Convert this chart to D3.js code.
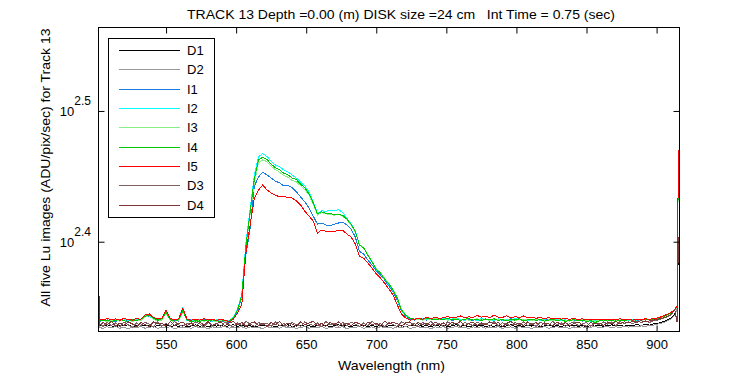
<!DOCTYPE html>
<html>
<head>
<meta charset="utf-8">
<script src="https://cdn.jsdelivr.net/npm/d3@7"></script>
<style>
  body { margin: 0; background: #fff; }
  svg { display: block; font-family: "Liberation Sans", Arial, Helvetica, sans-serif; }
  .axis text { font-size: 13px; fill: #000; }
  .axis line { stroke: #000; }
  .trace { fill: none; stroke-width: 1; shape-rendering: crispEdges; }
</style>
</head>
<body>
<svg id="chart" width="750" height="375"></svg>
<script>
"use strict";

// wavelength grid (nm)
let wavelength = [501.8, 502.6,
  505,508,511,514,517,520,523,526,529,532,
  535,538,541,544,547,550,553,556,559,562,
  565,568,571,574,577,580,583,586,589,592,
  595,598,601,604,607,610,613,616,619,622,
  625,628,631,634,637,640,643,646,649,652,
  655,658,661,664,667,670,673,676,679,682,
  685,688,691,694,697,700,703,706,709,712,
  715,718,721,724,727,730,733,736,739,742,
  745,748,751,754,757,760,763,766,769,772,
  775,778,781,784,787,790,793,796,799,802,
  805,808,811,814,817,820,823,826,829,832,
  835,838,841,844,847,850,853,856,859,862,
  865,868,871,874,877,880,883,886,889,892,
  895,898,901,904,907,910,913,
  914.6, 915.6];

// Lu (ADU/pix/sec)
let d1 = [222.0,
  216.8, 216.4, 217.0, 216.6, 216.2, 216.9, 216.5, 217.1, 216.3, 216.7,
  216.4, 216.9, 216.6, 216.1, 216.8, 216.5, 217.0, 216.3, 216.7, 216.4,
  216.9, 216.2, 216.6, 217.0, 216.4, 216.8, 216.3, 216.7, 216.5, 216.9,
  216.2, 216.6, 217.0, 216.4, 216.8, 216.3, 216.7, 216.1, 216.6, 216.9,
  216.4, 216.8, 216.2, 216.7, 216.5, 217.0, 216.3, 216.6, 216.9, 216.4,
  216.7, 216.2, 216.8, 216.5, 216.9, 216.3, 216.6, 217.0, 216.4, 216.7,
  216.2, 216.8, 216.5, 216.9, 216.3, 216.7, 216.4, 216.8, 216.1, 216.6,
  216.9, 216.4, 216.7, 216.3, 216.8, 216.5, 217.0, 216.4, 216.7, 216.2,
  216.8, 216.5, 216.9, 216.3, 216.6, 217.0, 216.4, 216.8, 216.2, 216.7,
  216.5, 216.9, 216.3, 216.7, 216.4, 216.8, 216.2, 216.6, 217.0, 216.4,
  216.7, 216.3, 216.9, 216.5, 216.8, 216.2, 216.6, 216.9, 216.4, 216.7,
  216.3, 216.8, 216.5, 216.9, 216.4, 216.7, 216.2, 216.8, 216.5, 216.9,
  216.4, 216.7, 217.0, 216.5, 216.8, 216.4, 216.9, 216.6, 217.1, 216.7,
  217.2, 216.9, 217.4, 217.6, 218.1, 218.7, 219.5, 221.2, 222.5, 250.0];

let d2 = [224.0,
  216.0, 215.6, 216.3, 215.8, 216.4, 215.7, 216.1, 215.5, 216.2, 215.9,
  216.3, 215.7, 216.0, 216.4, 215.6, 216.1, 215.8, 216.3, 215.5, 216.0,
  215.8, 216.2, 215.6, 216.4, 215.9, 216.1, 215.5, 216.3, 215.8, 216.0,
  216.4, 215.7, 216.1, 215.9, 216.3, 215.6, 216.2, 215.8, 216.0, 215.5,
  216.3, 215.9, 216.1, 215.7, 216.4, 215.8, 216.2, 215.6, 216.0, 216.3,
  215.7, 216.1, 215.9, 216.4, 215.6, 216.0, 216.2, 215.8, 216.3, 215.5,
  216.1, 215.9, 216.4, 215.7, 216.0, 216.2, 215.6, 216.3, 215.8, 216.1,
  215.7, 216.2, 215.9, 216.4, 215.6, 216.0, 216.3, 215.8, 216.1, 215.5,
  216.2, 215.9, 216.3, 215.7, 216.0, 216.4, 215.8, 216.1, 215.6, 216.2,
  215.9, 216.3, 215.7, 216.1, 215.8, 216.4, 215.6, 216.0, 216.2, 215.7,
  216.3, 215.9, 216.1, 215.6, 216.2, 215.8, 216.4, 215.7, 216.0, 216.3,
  215.8, 216.1, 215.6, 216.2, 215.9, 216.3, 215.7, 216.0, 216.4, 215.8,
  216.1, 216.3, 215.9, 216.2, 216.0, 216.4, 216.1, 216.5, 216.2, 216.6,
  216.4, 216.8, 216.9, 217.3, 217.7, 218.3, 219.1, 220.7, 223.0, 251.0];

let i1 = [235.5, 218.3, 218.6, 218.8, 218.4, 218.2, 218.9, 218.6, 218.7, 218.3, 218.9, 218.5,
  220.9, 220.2, 219.4, 218.6, 218.8, 222.0, 218.5, 218.7, 218.4, 222.8, 218.6, 218.9, 218.5,
  218.3, 218.9, 218.5, 218.4, 218.8, 218.5, 218.2,
  217.8, 219.4, 222.3, 227.5, 245.4, 257.2, 277.1, 281.5, 284.0, 282.5, 281.0, 279.5, 278.6,
  277.1, 277.3, 276.2, 274.2, 271.8, 269.5, 266.6, 262.8, 259.1, 259.6, 258.7, 258.2, 259.1,
  259.6, 260.0, 258.7, 256.9, 253.3, 247.0, 245.8, 243.2, 241.1, 238.6, 236.9, 234.8, 232.3,
  229.9, 226.7, 222.3, 220.3, 219.2, 218.8,
  219.0, 219.3, 218.8, 219.1, 219.4, 218.9, 219.1, 219.3, 218.7, 219.0,
  219.2, 218.8, 219.1, 218.7, 219.2, 218.9, 219.3, 218.7, 219.0, 219.2,
  218.7, 219.0, 219.3, 218.8, 219.1, 218.5, 219.0, 218.8, 219.2, 218.6,
  218.9, 219.1, 218.6, 218.8, 219.0, 218.5, 218.9, 218.6, 218.8, 218.4,
  218.7, 218.9, 218.5, 218.8, 218.4, 218.7, 218.9, 218.5, 218.7, 218.8,
  218.6, 218.9, 218.7, 219.0, 218.8, 219.0, 219.2, 219.6, 220.0, 220.7, 221.4, 222.6, 224.0, 292.5];

let i2 = [236.6, 218.7, 218.9, 218.3, 219.0, 218.5, 218.8, 219.3, 218.6, 218.4, 219.1, 218.8,
  220.6, 220.4, 219.2, 219.0, 218.6, 222.0, 218.7, 218.9, 219.2, 223.8, 218.5, 218.9, 218.4,
  219.0, 218.6, 218.8, 218.3, 218.9, 219.2, 218.6,
  218.6, 219.8, 223.2, 229.0, 250.6, 266.0, 282.5, 291.8, 293.3, 291.9, 289.5, 287.5, 286.6,
  285.0, 284.0, 282.5, 281.0, 279.0, 277.1, 274.2, 269.6, 264.0, 265.2, 265.0, 265.6, 265.3,
  265.8, 264.5, 261.8, 259.2, 256.0, 249.6, 248.6, 245.5, 242.2, 239.1, 237.6, 235.0, 233.0,
  230.4, 227.3, 222.4, 220.6, 219.4, 219.0,
  219.1, 219.5, 218.9, 219.3, 219.6, 219.0, 219.4, 218.8, 219.2, 219.5,
  219.0, 218.7, 219.3, 219.1, 218.6, 219.4, 218.9, 219.2, 218.6, 219.3,
  218.8, 219.1, 218.7, 219.4, 218.9, 219.2, 218.6, 218.9, 219.3, 218.7,
  219.0, 218.5, 218.9, 219.2, 218.7, 218.9, 218.4, 218.8, 219.1, 218.6,
  218.9, 218.3, 218.7, 218.9, 218.5, 218.8, 218.4, 218.9, 218.6, 219.0,
  218.7, 219.1, 218.8, 219.2, 218.9, 219.1, 219.3, 219.7, 220.1, 220.8, 221.6, 222.8, 224.3, 294.0];

let i3 = [234.0, 218.5, 218.7, 218.2, 218.6, 219.0, 218.4, 218.8, 218.9, 218.3, 218.7, 218.5,
  220.0, 220.6, 219.0, 218.5, 218.9, 221.6, 218.6, 218.3, 218.7, 222.0, 218.9, 218.5, 218.2,
  218.8, 218.4, 218.6, 218.7, 218.2, 218.6, 218.4,
  218.3, 219.5, 222.5, 228.0, 248.8, 263.8, 279.0, 288.6, 290.2, 289.2, 287.0, 285.2, 283.9,
  282.3, 281.4, 279.8, 279.1, 277.2, 275.4, 272.6, 268.5, 263.2, 264.4, 263.8, 263.5, 263.2,
  263.6, 262.8, 261.0, 258.8, 255.6, 249.9, 248.6, 245.6, 242.6, 239.6, 237.9, 235.4, 233.4,
  230.9, 227.8, 223.0, 220.9, 219.6, 219.1,
  219.2, 218.8, 219.3, 219.0, 219.4, 218.9, 219.2, 218.7, 219.1, 219.3,
  218.8, 219.2, 218.7, 219.0, 219.3, 218.8, 219.1, 218.6, 219.0, 218.9,
  219.2, 218.7, 219.0, 218.6, 219.1, 218.8, 219.2, 218.6, 218.9, 219.1,
  218.6, 218.9, 218.5, 218.8, 219.0, 218.6, 218.9, 218.4, 218.7, 219.0,
  218.5, 218.8, 218.4, 218.7, 218.9, 218.5, 218.8, 218.4, 218.9, 218.6,
  218.9, 218.6, 219.0, 218.7, 219.1, 218.8, 219.0, 219.4, 219.9, 220.6, 221.4, 222.5, 223.9, 292.0];

let i4 = [234.5, 219.0, 218.4, 218.9, 218.2, 218.7, 219.1, 218.5, 218.3, 218.9, 218.6, 219.2,
  220.3, 220.8, 219.6, 218.7, 219.3, 221.8, 219.0, 218.4, 218.9, 222.4, 218.8, 218.2, 218.6,
  218.3, 218.7, 218.4, 218.9, 218.5, 218.3, 218.7,
  218.4, 219.6, 222.7, 228.3, 249.5, 264.7, 280.6, 290.1, 291.5, 290.3, 288.0, 286.2, 285.1,
  283.4, 282.6, 281.0, 280.2, 278.0, 276.3, 273.2, 269.0, 263.8, 264.8, 264.1, 263.9, 263.6,
  263.4, 263.2, 261.4, 259.0, 255.9, 249.7, 248.4, 245.3, 242.4, 239.3, 237.7, 235.1, 233.2,
  230.6, 227.5, 222.7, 220.7, 219.5, 219.2,
  219.4, 219.0, 219.6, 219.2, 218.8, 219.3, 219.0, 219.5, 218.9, 219.2,
  218.7, 219.1, 219.4, 218.8, 219.0, 218.6, 219.2, 218.9, 219.3, 218.7,
  219.0, 218.5, 219.1, 218.8, 219.3, 218.6, 218.9, 219.2, 218.7, 219.0,
  218.4, 218.8, 219.1, 218.6, 218.9, 218.3, 218.7, 219.0, 218.5, 218.8,
  218.2, 218.6, 217.8, 218.5, 218.9, 218.4, 218.7, 218.3, 218.8, 218.5,
  219.0, 218.7, 219.1, 218.8, 219.0, 218.9, 219.2, 219.5, 220.0, 220.7, 221.5, 222.6, 224.1, 293.0];

let i5 = [236.2, 219.1, 218.8, 219.4, 218.9, 219.3, 218.7, 219.5, 219.0, 218.8, 219.4, 219.1,
  220.8, 221.2, 219.8, 219.2, 219.6, 222.7, 219.4, 218.9, 219.3, 223.4, 219.1, 218.7, 219.2,
  218.8, 219.3, 218.9, 219.1, 218.7, 219.0, 218.8,
  218.0, 219.2, 221.5, 224.7, 246.6, 258.7, 271.3, 275.2, 277.6, 275.2, 273.7, 272.7, 271.8,
  272.0, 271.6, 271.3, 269.9, 268.0, 265.1, 262.8, 260.5, 255.0, 256.4, 255.9, 255.5, 255.9,
  256.1, 256.4, 254.6, 253.3, 250.2, 244.9, 244.0, 241.9, 239.8, 237.3, 235.6, 233.5, 231.1,
  228.7, 224.7, 221.1, 219.6, 218.8, 218.9,
  219.6, 219.2, 219.8, 219.4, 219.9, 219.5, 219.7, 220.2, 219.6, 219.9,
  220.4, 219.7, 220.1, 219.8, 220.6, 219.9, 220.3, 219.7, 220.8, 220.0,
  219.8, 220.5, 219.6, 220.2, 219.8, 220.4, 219.7, 219.9, 219.5, 219.8,
  219.4, 219.7, 219.3, 219.6, 219.2, 219.5, 219.1, 219.4, 219.0, 219.3,
  219.0, 219.2, 218.8, 219.1, 218.9, 219.2, 218.8, 219.0, 219.3, 218.9,
  219.1, 218.8, 219.2, 218.9, 219.3, 219.1, 219.4, 219.7, 220.2, 220.9, 221.7, 222.9, 224.4, 295.3];

let d3v = [221.0,
  217.5, 216.4, 217.9, 216.7, 217.7, 216.2, 218.1, 217.0, 216.0, 217.7,
  216.7, 217.9, 217.3, 216.2, 218.1, 216.4, 217.5, 216.7, 218.3, 217.0,
  216.4, 217.7, 216.7, 218.1, 217.3, 216.2, 217.9, 216.7, 217.5, 216.4,
  218.1, 217.0, 216.2, 217.7, 216.7, 218.3, 217.3, 216.4, 217.9, 217.0,
  217.7, 216.4, 218.1, 216.7, 217.5, 216.2, 217.9, 217.0, 216.4, 218.1,
  217.3, 216.7, 217.7, 216.2, 218.3, 217.0, 217.5, 216.4, 217.9, 216.7,
  218.1, 217.3, 216.4, 217.7, 216.7, 218.3, 217.0, 217.5, 216.2, 217.9,
  217.0, 216.4, 218.1, 217.3, 216.7, 217.7, 216.2, 217.9, 217.0, 218.3,
  216.7, 217.5, 216.4, 218.1, 217.0, 217.7, 216.2, 217.9, 217.3, 216.7,
  218.1, 217.0, 217.5, 216.4, 218.3, 216.7, 217.7, 217.3, 216.4, 217.9,
  217.0, 218.1, 216.7, 217.5, 216.4, 217.9, 217.3, 216.7, 218.3, 217.0,
  217.7, 216.4, 217.5, 218.1, 216.7, 217.3, 217.9, 216.4, 217.7, 217.0,
  218.1, 217.3, 217.9, 216.7, 218.3, 217.5, 218.1, 217.3, 218.5, 217.9,
  218.4, 217.9, 218.6, 218.8, 219.4, 219.9, 220.8, 222.6, 218.0, 253.3];

let d4 = [221.5,
  216.7, 217.9, 217.0, 218.3, 216.4, 217.7, 216.7, 218.1, 217.3, 216.2,
  217.9, 217.0, 216.4, 218.1, 217.3, 217.7, 216.4, 218.3, 216.7, 217.5,
  218.1, 216.7, 217.7, 216.4, 217.9, 217.0, 218.3, 216.7, 217.5, 218.1,
  216.7, 217.7, 218.3, 217.0, 217.9, 216.4, 217.5, 218.1, 216.7, 217.7,
  216.4, 217.9, 217.0, 218.3, 216.7, 217.7, 217.3, 216.4, 218.1, 217.0,
  217.7, 218.3, 216.7, 217.5, 216.4, 217.9, 217.0, 218.1, 216.7, 217.7,
  216.7, 217.9, 217.5, 216.4, 218.1, 217.0, 217.7, 216.7, 218.3, 217.3,
  217.9, 217.5, 216.4, 217.7, 218.1, 216.7, 217.9, 217.0, 217.7, 216.7,
  218.1, 217.0, 217.7, 216.7, 217.9, 217.3, 218.3, 216.7, 217.5, 218.1,
  216.7, 217.7, 217.0, 218.1, 217.3, 217.9, 216.4, 217.5, 218.3, 217.0,
  217.7, 216.7, 218.1, 217.0, 217.9, 216.4, 217.7, 217.3, 216.7, 218.1,
  217.0, 217.9, 216.7, 217.5, 218.1, 217.0, 216.4, 217.9, 217.3, 217.7,
  216.7, 217.9, 217.5, 218.3, 217.3, 218.1, 217.7, 218.4, 217.9, 218.6,
  218.1, 218.5, 218.8, 219.1, 219.5, 220.1, 220.9, 222.8, 218.0, 253.3];

let seriesNames = ['D1', 'D2', 'I1', 'I2', 'I3', 'I4', 'I5', 'D3', 'D4'];
let seriesValues = [d1, d2, i1, i2, i3, i4, i5, d3v, d4];
let seriesColors = ['#000000', '#999999', '#1a7ee0', '#00ffff', '#88f088', '#00c800', '#ff0000', '#806060', '#803838'];

let xTicks = [550, 600, 650, 700, 750, 800, 850, 900];
let yTicks = [2.4, 2.5]; // exponents of 10

seriesValues.forEach((s, k) => {
  if (s.length !== wavelength.length) {
    throw new Error(seriesNames[k] + ' has ' + s.length + ' values, expected ' + wavelength.length);
  }
});

let svg = d3.select('#chart');
let plotL = 98.5, plotR = 679.5, plotT = 27.5, plotB = 331.5;

let x = d3.scaleLinear().domain([501.8, 916.35]).range([plotL, plotR]);
let y = d3.scaleLog().domain([214.45, 366.3]).range([plotB, plotT]);

// traces
let line = d3.line()
  .x((d, i) => x(wavelength[i]))
  .y(d => y(d));

svg.append('clipPath').attr('id', 'plotclip')
  .append('rect')
    .attr('x', plotL).attr('y', plotT)
    .attr('width', plotR - plotL).attr('height', plotB - plotT);

svg.append('g')
    .attr('clip-path', 'url(#plotclip)')
  .selectAll('path.trace')
  .data(seriesValues)
  .enter()
  .append('path')
    .attr('class', 'trace')
    .attr('stroke', (d, k) => seriesColors[k])
    .attr('d', line);

// axes, ticks pointing inwards on all four sides
let xb = svg.append('g')
    .attr('class', 'axis')
    .attr('transform', `translate(0,${plotB})`)
    .call(d3.axisBottom(x).tickValues(xTicks).tickSize(-6).tickPadding(8.5));
let xt = svg.append('g')
    .attr('class', 'axis')
    .attr('transform', `translate(0,${plotT})`)
    .call(d3.axisTop(x).tickValues(xTicks).tickSize(-6).tickFormat(''));
let yl = svg.append('g')
    .attr('class', 'axis')
    .attr('transform', `translate(${plotL},0)`)
    .call(d3.axisLeft(y).tickValues(yTicks.map(e => Math.pow(10, e))).tickSize(-6).tickFormat(''));
let yr = svg.append('g')
    .attr('class', 'axis')
    .attr('transform', `translate(${plotR},0)`)
    .call(d3.axisRight(y).tickValues(yTicks.map(e => Math.pow(10, e))).tickSize(-6).tickFormat(''));
svg.selectAll('.axis .domain').remove();

// 10^e labels
yl.selectAll('.tick')
  .append('text')
    .attr('x', -7.5)
    .attr('y', 4.5)
    .attr('text-anchor', 'end')
    .style('font-size', '13px')
    .text('10')
  .append('tspan')
    .attr('dy', -10.5)
    .style('font-size', '12px')
    .text((d, i) => yTicks[i].toFixed(1));

// frame
svg.append('rect')
    .attr('x', plotL).attr('y', plotT)
    .attr('width', plotR - plotL).attr('height', plotB - plotT)
    .attr('fill', 'none')
    .attr('stroke', '#000')
    .attr('shape-rendering', 'crispEdges');

// title and labels (stretched to the width of the original bitmap font)
svg.append('text')
    .attr('x', 401)
    .attr('y', 19)
    .attr('text-anchor', 'middle')
    .attr('textLength', 428)
    .attr('lengthAdjust', 'spacingAndGlyphs')
    .style('font-size', '13px')
    .style('white-space', 'pre')
    .text('TRACK 13 Depth =0.00 (m) DISK size =24 cm   Int Time = 0.75 (sec)');

svg.append('text')
    .attr('x', 391.5)
    .attr('y', 370)
    .attr('text-anchor', 'middle')
    .attr('textLength', 107)
    .attr('lengthAdjust', 'spacingAndGlyphs')
    .style('font-size', '13px')
    .text('Wavelength (nm)');

svg.append('text')
    .attr('transform', 'translate(50,167.5) rotate(-90)')
    .attr('text-anchor', 'middle')
    .attr('textLength', 278)
    .attr('lengthAdjust', 'spacingAndGlyphs')
    .style('font-size', '13px')
    .text('All five Lu images (ADU/pix/sec) for Track 13');

// legend
let legend = svg.append('g').attr('class', 'legend');
legend.append('rect')
    .attr('x', 108.5).attr('y', 38.5)
    .attr('width', 106).attr('height', 179)
    .attr('fill', '#fff')
    .attr('stroke', '#000')
    .attr('shape-rendering', 'crispEdges');
let items = legend.selectAll('g.item')
  .data(seriesNames)
  .enter()
  .append('g')
    .attr('class', 'item')
    .attr('transform', (d, k) => `translate(0,${Math.round(50 + k * 19.33)})`);
items.append('line')
    .attr('x1', 119).attr('x2', 180)
    .attr('y1', 0.5).attr('y2', 0.5)
    .attr('stroke', (d, k) => seriesColors[k])
    .attr('stroke-width', 1);
items.append('text')
    .attr('x', 187)
    .attr('y', 5)
    .style('font-size', '13px')
    .text(d => d);
</script>
</body>
</html>
